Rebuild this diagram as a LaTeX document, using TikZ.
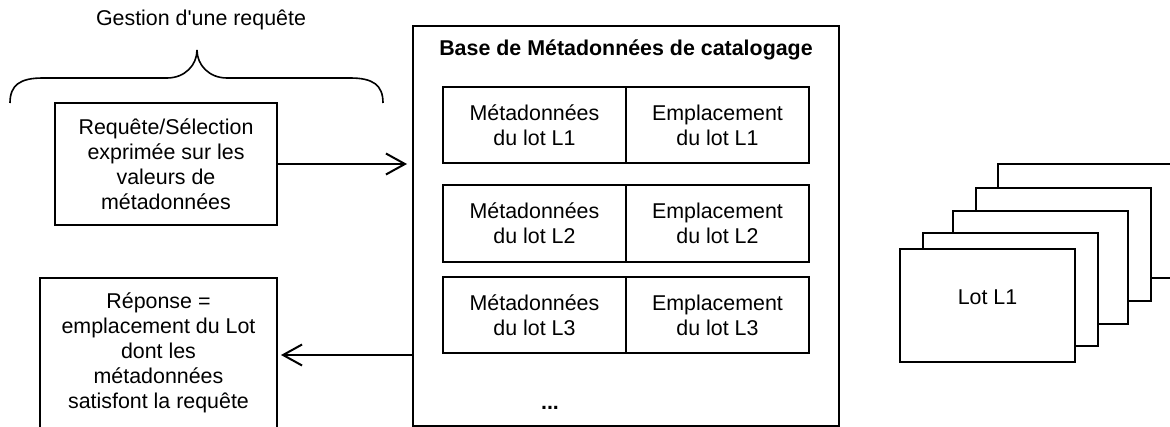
\documentclass[tikz,border=0pt]{standalone}
\usepackage{fontspec}
\setmainfont{Liberation Sans}
\usetikzlibrary{arrows.meta}

\begin{document}
\begin{tikzpicture}[x=0.5pt, y=-0.5pt,
  font=\fontsize{10.7}{12.5}\selectfont,
  box/.style={draw, line width=1pt, align=center, inner sep=0pt},
  cell/.style={box, minimum width=91.5pt, minimum height=38pt},
  lot/.style={draw, fill=white, line width=1pt, minimum width=87.5pt, minimum height=56.5pt},
  >={Straight Barb[length=9.5pt, width=10.5pt]}]
\path[use as bounding box, clip] (0,0) rectangle (1170,427);

% request side
\node[box, minimum width=111pt, minimum height=61pt] (query) at (166,164) {Requête/Sélection\\exprimée sur les\\valeurs de\\métadonnées};
\node (gestion) at (201,20) {Gestion d\textquotesingle une requête};
\draw[line width=0.8pt] (10,103) .. controls (10,85) and (20,78) .. (43,78) -- (167,78)
  .. controls (185,78) and (197,65) .. (197,50) .. controls (197,65) and (209,78) .. (227,78)
  -- (350,78) .. controls (373,78) and (383,85) .. (383,103);

% catalogue base
\node[box, minimum width=213pt, minimum height=200pt] (base) at (626,226) {};
\node (title) at (626,50) {\textbf{Base de Métadonnées de catalogage}};
\foreach \i/\y in {1/125, 2/223.5, 3/315} {
  \node[cell] (meta\i) at (534.5,\y) {Métadonnées\\du lot L\i};
  \node[cell] (empl\i) at (717.5,\y) {Emplacement\\du lot L\i};
}
\node (dots) at (550,408) {\textbf{...}};

% answer
\node[box, minimum width=118.5pt, minimum height=75pt] (rep) at (158.5,353) {Réponse =\\emplacement du Lot\\dont les\\métadonnées\\satisfont la requête};

% arrows
\draw[->, line width=1pt, shorten >=2.5pt] (query.east) -- (query.east -| base.west);
\draw[->, line width=1pt, shorten >=1.5pt] ([yshift=-1pt]rep.east -| base.west) -- ([yshift=-1pt]rep.east);

% stack of lots
\foreach \n/\x/\y in {5/1085.5/221, 4/1063/244.5, 3/1040.5/267.5, 2/1010/289.5}
  \node[lot] (lot\n) at (\x,\y) {};
\node[lot, label={[yshift=4pt]center:Lot L1}] (lot1) at (987.5,305) {};
\end{tikzpicture}
\end{document}
